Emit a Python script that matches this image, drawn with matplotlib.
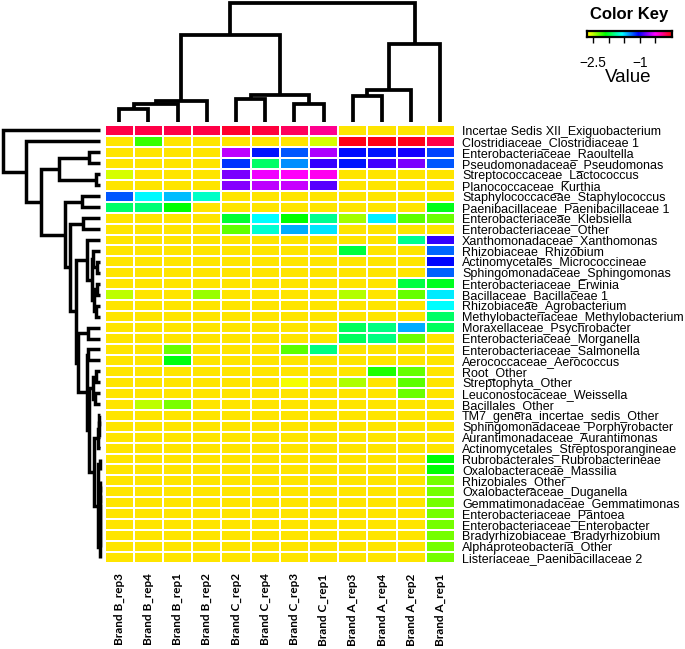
import numpy as np
import matplotlib
matplotlib.use("Agg")
import matplotlib.pyplot as plt
from matplotlib.colors import ListedColormap, hsv_to_rgb

# ---------------- data ----------------
L = -2.7  # lowest value (yellow)

samples = ["Brand B_rep3", "Brand B_rep4", "Brand B_rep1", "Brand B_rep2",
           "Brand C_rep2", "Brand C_rep4", "Brand C_rep3", "Brand C_rep1",
           "Brand A_rep3", "Brand A_rep4", "Brand A_rep2", "Brand A_rep1"]

taxa = ["Incertae Sedis XII_Exiguobacterium", "Clostridiaceae_Clostridiaceae 1",
        "Enterobacteriaceae_Raoultella", "Pseudomonadaceae_Pseudomonas",
        "Streptococcaceae_Lactococcus", "Planococcaceae_Kurthia",
        "Staphylococcaceae_Staphylococcus", "Paenibacillaceae_Paenibacillaceae 1",
        "Enterobacteriaceae_Klebsiella", "Enterobacteriaceae_Other",
        "Xanthomonadaceae_Xanthomonas", "Rhizobiaceae_Rhizobium",
        "Actinomycetales_Micrococcineae", "Sphingomonadaceae_Sphingomonas",
        "Enterobacteriaceae_Erwinia", "Bacillaceae_Bacillaceae 1",
        "Rhizobiaceae_Agrobacterium", "Methylobacteriaceae_Methylobacterium",
        "Moraxellaceae_Psychrobacter", "Enterobacteriaceae_Morganella",
        "Enterobacteriaceae_Salmonella", "Aerococcaceae_Aerococcus",
        "Root_Other", "Streptophyta_Other", "Leuconostocaceae_Weissella",
        "Bacillales_Other", "TM7_genera_incertae_sedis_Other",
        "Sphingomonadaceae_Porphyrobacter", "Aurantimonadaceae_Aurantimonas",
        "Actinomycetales_Streptosporangineae", "Rubrobacterales_Rubrobacterineae",
        "Oxalobacteraceae_Massilia", "Rhizobiales_Other", "Oxalobacteraceae_Duganella",
        "Gemmatimonadaceae_Gemmatimonas", "Enterobacteriaceae_Pantoea",
        "Enterobacteriaceae_Enterobacter", "Bradyrhizobiaceae_Bradyrhizobium",
        "Alphaproteobacteria_Other", "Listeriaceae_Paenibacillaceae 2"]

values = [
    [-0.12, -0.12, -0.12, -0.12, -0.07, -0.10, -0.17, -0.27, L, L, L, L],
    [L, -2.23, L, L, L, L, L, -2.56, -0.02, -0.02, -0.03, -0.12],
    [L, L, L, L, -0.65, -1.08, -1.22, -0.68, -1.06, -1.08, -1.00, -1.18],
    [L, L, L, L, -1.15, -1.90, -1.34, -0.93, -1.08, -0.90, -0.79, -1.22],
    [-2.56, L, L, L, -0.79, -0.54, -0.50, -0.48, L, L, L, L],
    [L, L, L, L, -0.76, -0.65, -0.63, -0.86, L, L, L, L],
    [-1.22, -1.56, -1.44, -1.69, L, L, L, L, L, L, L, L],
    [-1.90, -1.86, -2.11, L, L, L, L, L, L, L, L, -2.06],
    [L, L, L, L, -2.00, -1.57, -2.11, -1.81, -2.45, -1.54, -2.30, -2.33],
    [L, L, L, L, -2.31, -1.67, -1.40, -1.52, L, L, L, L],
    [L, L, L, L, L, L, L, L, L, L, -1.81, -0.93],
    [L, L, L, L, L, L, L, L, -1.98, L, L, -1.25],
    [L, L, L, L, L, L, L, L, L, L, L, -1.05],
    [L, L, L, L, L, L, L, L, L, L, L, -1.24],
    [L, L, L, L, L, L, L, L, L, L, -1.97, -2.04],
    [-2.50, L, L, -2.43, L, L, L, L, -2.48, L, -2.32, -1.53],
    [L, L, L, L, L, L, L, L, L, L, L, -1.58],
    [L, L, L, L, L, L, L, L, L, L, L, -1.90],
    [L, L, L, L, L, L, L, L, -1.92, -1.84, -1.40, -1.92],
    [L, L, L, L, L, L, L, L, -1.92, -1.84, -2.33, L],
    [L, L, -2.33, L, L, L, -2.30, -1.84, L, L, L, L],
    [L, L, -2.08, L, L, L, L, L, L, L, L, L],
    [L, L, L, L, L, L, L, L, L, -2.17, -2.32, L],
    [L, L, L, L, L, L, -2.62, L, -2.47, L, -2.30, L],
    [L, L, L, L, L, L, L, L, L, L, -2.33, L],
    [L, -2.50, -2.36, L, L, L, L, L, L, L, L, L],
    [L, L, L, L, L, L, L, L, L, L, L, L],
    [L, L, L, L, L, L, L, L, L, L, L, L],
    [L, L, L, L, L, L, L, L, L, L, L, L],
    [L, L, L, L, L, L, L, L, L, L, L, L],
    [L, L, L, L, L, L, L, L, L, L, L, -2.10],
    [L, L, L, L, L, L, L, L, L, L, L, -2.10],
    [L, L, L, L, L, L, L, L, L, L, L, -2.35],
    [L, L, L, L, L, L, L, L, L, L, L, -2.35],
    [L, L, L, L, L, L, L, L, L, L, L, -2.35],
    [L, L, L, L, L, L, L, L, L, L, L, -2.35],
    [L, L, L, L, L, L, L, L, L, L, L, -2.35],
    [L, L, L, L, L, L, L, L, L, L, L, -2.35],
    [L, L, L, L, L, L, L, L, L, L, L, -2.35],
    [L, L, L, L, L, L, L, L, L, L, L, -2.35],
]

# dendrograms: [height, left, right]; leaves are display indices
col_tree = [119, [87, [21, [17.7, [13.3, 0, 1], 2], 3],
                  [27.3, [23.3, 4, 5], [18.3, 6, 7]]],
                 [78.3, [32.3, [25.7, 8, 9], 10], 11]]

chain_33_40 = [0, [0, [0, [0, [0, [0, [0, 32, 33], 34], 35], 36], 37], 38], 39]
row_P = [13, 10, [8, [7, 11, [3, 12, 13]], [6, [3, 14, 15], [4, 16, 17]]]]
row_Q = [22, [12, 18, 19],
         [13, [12, 20, 21],
          [11, [7, [4, 22, 23], [5, 24, 25]],
           [6, [1.5, [1, [0.5, 26, 27], 28], 29], [2, [0, 30, 31], chain_33_40]]]]]
row_tree = [97, 0, [74, 1, [59, [41, [11, 2, 3], [4, 4, 5]],
                            [35, [18, 6, 7], [30, [17, 8, 9], [24, row_P, row_Q]]]]]]

key_ticks = [-2.5, -2.0, -1.5, -1.0, -0.5]
key_ticklabels = ["\u22122.5", "", "", "\u22121", ""]
vmin, vmax = -2.7, 0.03

# ---------------- figure ----------------
W, H = 685, 649
fig = plt.figure(figsize=(W / 100, H / 100), dpi=100)
fig.patch.set_facecolor("white")


def ax_px(x0, y0, x1, y1):
    return fig.add_axes([x0 / W, 1 - y1 / H, (x1 - x0) / W, (y1 - y0) / H])


hues = np.linspace(0.15, 1.0, 256)
cmap = ListedColormap(hsv_to_rgb(np.column_stack([hues, np.ones(256), np.ones(256)])))

# heatmap
hm = ax_px(104.5, 125, 455, 563)
data = np.array(values)
hm.pcolormesh(np.arange(len(samples) + 1), np.arange(len(taxa) + 1), data,
              cmap=cmap, vmin=vmin, vmax=vmax, edgecolors="white", linewidth=1.1)
hm.set_xlim(0, len(samples))
hm.set_ylim(len(taxa), 0)
for s in hm.spines.values():
    s.set_visible(False)
hm.yaxis.tick_right()
hm.set_yticks(np.arange(len(taxa)) + 0.5)
hm.set_yticklabels(taxa, family="Liberation Sans", fontsize=9.0)
hm.set_xticks(np.arange(len(samples)) + 0.5)
hm.set_xticklabels(samples, rotation=90, family="Lato", fontweight="bold", fontsize=8.5)
hm.tick_params(axis="y", length=0, pad=5)
hm.tick_params(axis="x", length=0, pad=7.5)


def dendro(node, segs):
    if isinstance(node, int):
        return node + 0.5, 0.0
    h, a, b = node
    pa, ha = dendro(a, segs)
    pb, hb = dendro(b, segs)
    segs.append(([pa, pa, pb, pb], [ha, h, h, hb]))
    return (pa + pb) / 2, h


# column dendrogram
cd = ax_px(104.5, 0, 455, 122)
segs = []
dendro(col_tree, segs)
for p, h in segs:
    cd.plot(p, h, color="black", lw=2.7, solid_joinstyle="miter",
            solid_capstyle="butt", clip_on=False)
cd.set_xlim(0, len(samples))
cd.set_ylim(0, 122)
cd.axis("off")

# row dendrogram
rd = ax_px(0, 125, 100, 563)
segs = []
dendro(row_tree, segs)
for p, h in segs:
    rd.plot(h, p, color="black", lw=2.5, solid_joinstyle="miter",
            solid_capstyle="butt", clip_on=False)
rd.set_xlim(100, 0)
rd.set_ylim(len(taxa), 0)
rd.axis("off")

# color key
ck = ax_px(587, 31, 672, 37)
grad = np.linspace(vmin, vmax, 256)[None, :]
ck.imshow(grad, cmap=cmap, vmin=vmin, vmax=vmax, aspect="auto",
          extent=[vmin, vmax, 0, 1])
ck.set_xlim(vmin, vmax)
ck.set_yticks([])
ck.set_xticks(key_ticks)
ck.set_xticklabels(key_ticklabels, family="Liberation Sans", fontsize=9.8)
ck.tick_params(axis="x", length=4.5, width=1.0, pad=9)
for s in ck.spines.values():
    s.set_linewidth(1.6)
fig.text(629 / W, 1 - 15 / H, "Color Key", ha="center", va="center",
         family="Liberation Sans", fontweight="bold", fontsize=12)
fig.text(628 / W, 1 - 77 / H, "Value", ha="center", va="center",
         family="Liberation Sans", fontsize=13.5)

fig.savefig("out.png", dpi=100)
